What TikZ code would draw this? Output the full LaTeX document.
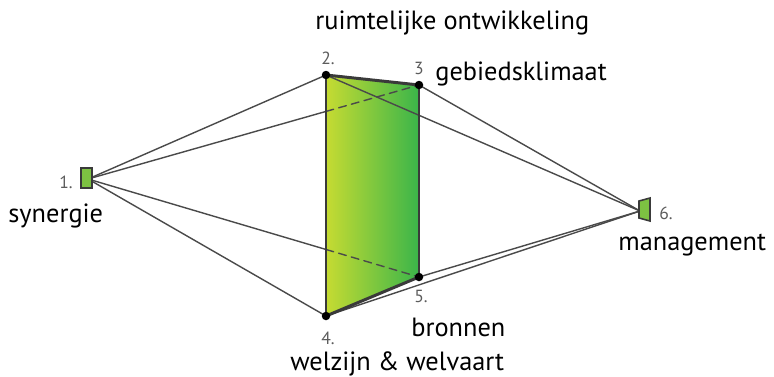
\documentclass[tikz,border=0pt]{standalone}
\usepackage{fontspec}
\setmainfont{PT Sans}
\usepackage{tikz}
\usetikzlibrary{calc}
\usepackage{tkz-euclide}
\definecolor{edgegray}{HTML}{3A3A3A}
\definecolor{fangray}{HTML}{4A4A4A}
\definecolor{numgray}{HTML}{5C5C5C}
\definecolor{lightgreen}{HTML}{C6DB32}
\definecolor{darkgreen}{HTML}{3AB54A}
\definecolor{markgreen}{HTML}{7DC242}
\tikzset{
  word/.style={anchor=base west,font=\fontsize{15}{17}\selectfont,text=black,inner sep=0pt},
  num/.style={font=\fontsize{10}{11}\selectfont,text=numgray,inner sep=0pt}
}

\begin{document}
\begin{tikzpicture}[scale=1, transform shape]
    \useasboundingbox (0,0) rectangle (15.48,7.52);
    \tkzDefPoint(1.76,3.94){S}
    \tkzDefPoint(6.52,6.02){R} \tkzDefPoint(8.38,5.82){G}
    \tkzDefPoint(6.52,1.20){W} \tkzDefPoint(8.38,1.98){B}
    \tkzDefPoint(12.80,3.30){M}
    \tkzInterLL(S,G)(R,W) \tkzGetPoint{SG}
    \tkzInterLL(S,B)(R,W) \tkzGetPoint{SB}
    \shade[left color=lightgreen,right color=darkgreen] (R) -- (G) -- (B) -- (W) -- cycle;
    \tkzDrawSegments[color=fangray,line width=0.8pt](S,R S,W S,SG S,SB)
    \tkzDrawSegments[color=fangray,line width=0.8pt,dash pattern=on 4.5pt off 3pt](SG,G SB,B)
    \tkzDrawSegments[color=fangray,line width=0.8pt](R,M G,M W,M B,M)
    \tkzDrawSegments[color=edgegray,line width=1.1pt](R,W G,B)
    \tkzDrawSegments[color=edgegray,line width=1.7pt,line cap=round](R,G W,B)
    \foreach \p in {R,G,W,B}
      \fill[black] (\p) circle (0.085);
    % small markers
    \filldraw[fill=markgreen,draw=edgegray,line width=0.9pt] (1.62,4.16) rectangle (1.84,3.76);
    \filldraw[fill=markgreen,draw=edgegray,line width=0.9pt] (12.78,3.50) -- (13.00,3.56) -- (13.00,3.10) -- (12.78,3.16) -- cycle;
    % numbers
    \node[num] (n1) at (1.32,3.88) {1.};
    \node[num] (n2) at (6.56,6.36) {2.};
    \node[num] (n3) at (8.38,6.16) {3};
    \node[num] (n4) at (6.56,0.76) {4.};
    \node[num] (n5) at (8.42,1.60) {5.};
    \node[num] (n6) at (13.32,3.26) {6.};
    % labels
    \node[word] (ruim) at (6.30,6.94) {ruimtelijke ontwikkeling};
    \node[word] (geb) at (8.70,5.92) {gebiedsklimaat};
    \node[word] (syn) at (0.16,3.08) {synergie};
    \node[word] (man) at (12.36,2.52) {management};
    \node[word] (bron) at (8.22,0.80) {bronnen};
    \node[word] (welz) at (5.80,0.12) {welzijn \& welvaart};
\end{tikzpicture}
\end{document}
